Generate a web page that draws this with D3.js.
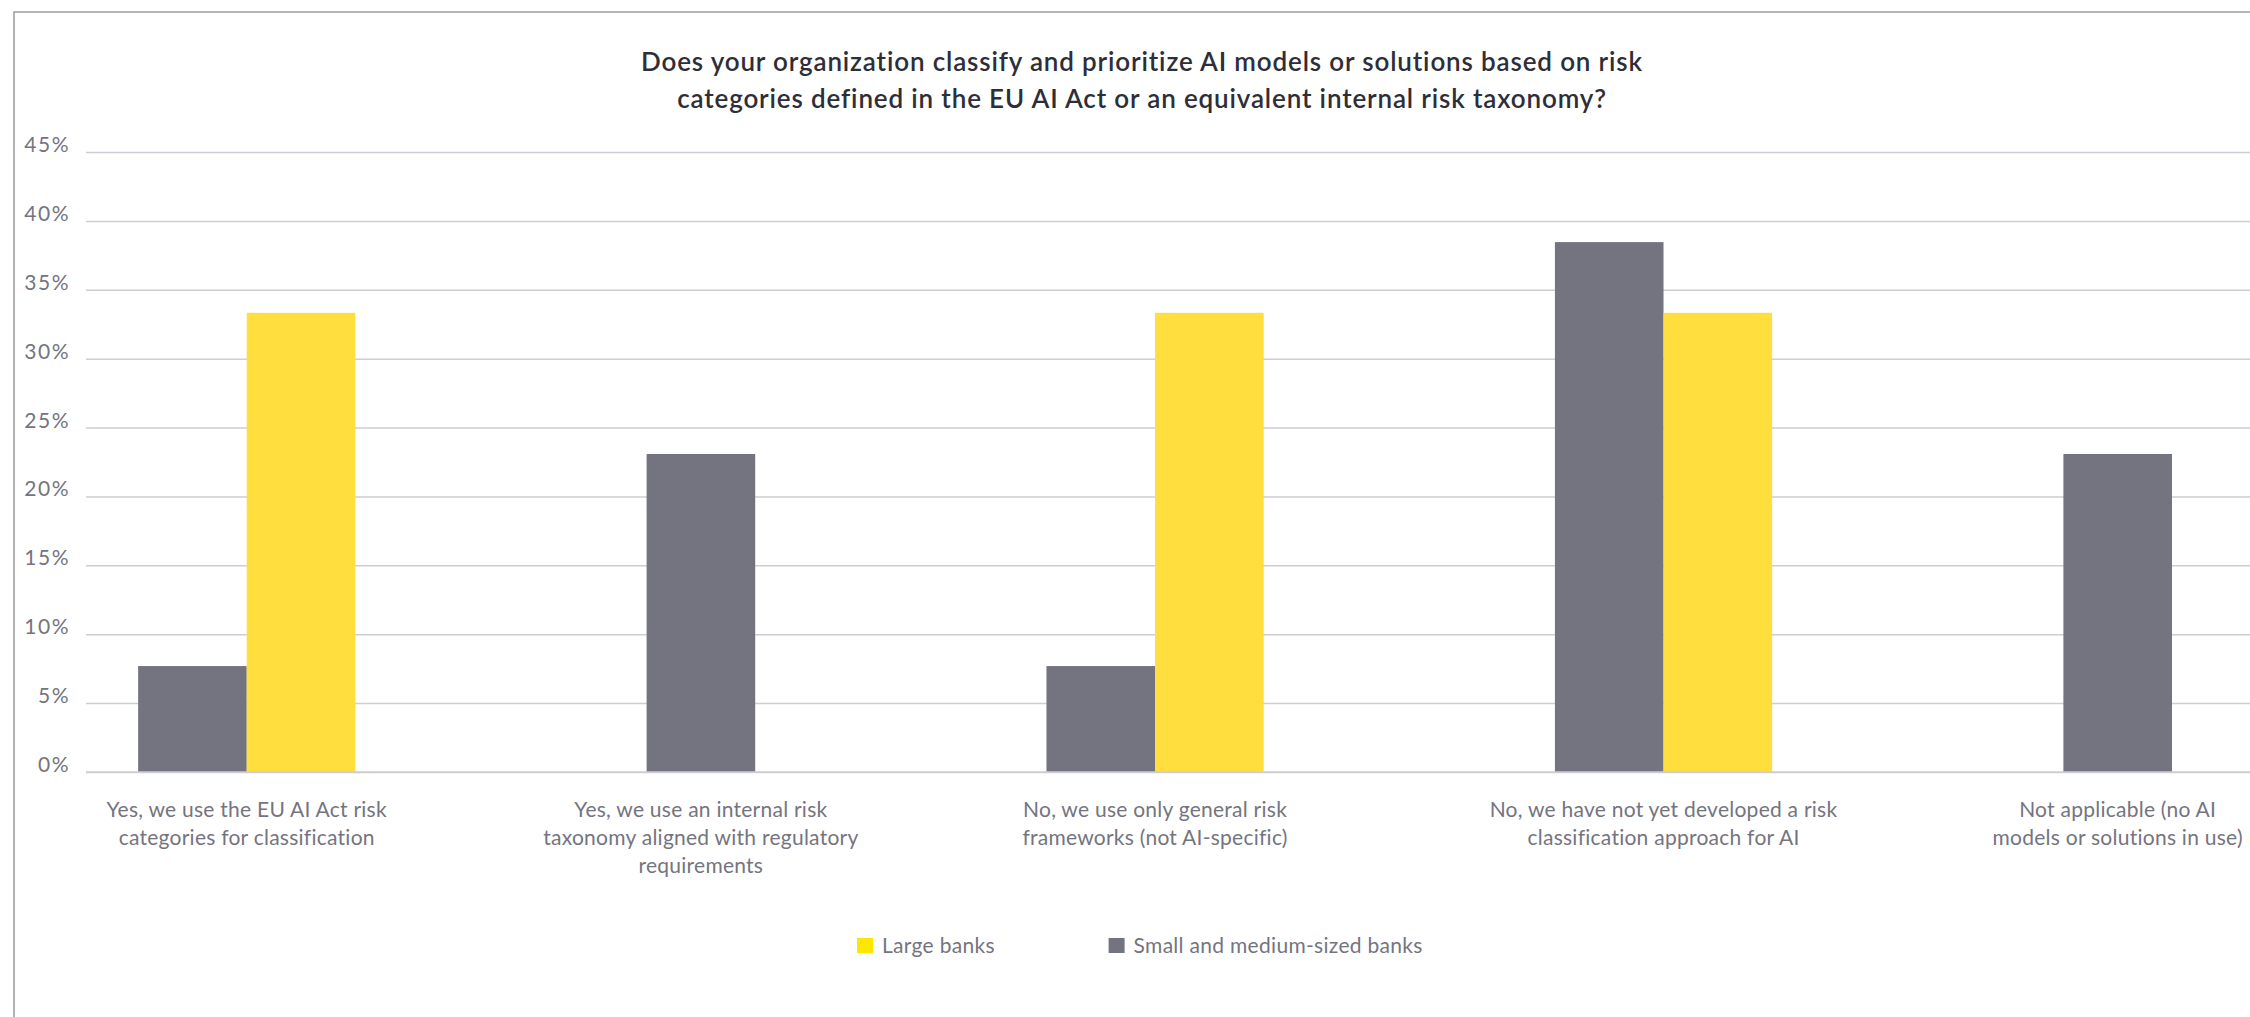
<!DOCTYPE html>
<html>
<head>
<meta charset="utf-8">
<script src="https://cdn.jsdelivr.net/npm/d3@7"></script>
<style>
  html, body { margin: 0; padding: 0; background: #fff; }
  svg { display: block; font-family: Lato, "Noto Sans", sans-serif; }
</style>
</head>
<body>
<svg id="chart" width="2250" height="1017"></svg>
<script>
const titleLines = [
    'Does your organization classify and prioritize AI models or solutions based on risk',
    'categories defined in the EU AI Act or an equivalent internal risk taxonomy?'
];
const categories = [
    ['Yes, we use the EU AI Act risk', 'categories for classification'],
    ['Yes, we use an internal risk', 'taxonomy aligned with regulatory', 'requirements'],
    ['No, we use only general risk', 'frameworks (not AI-specific)'],
    ['No, we have not yet developed a risk', 'classification approach for AI'],
    ['Not applicable (no AI', 'models or solutions in use)']
];
const seriesNames = ['Small and medium-sized banks', 'Large banks'];
const smallMediumBanks = [7.69, 23.08, 7.69, 38.46, 23.08];
const largeBanks = [33.33, 0, 33.33, 33.33, 0];
const yTicks = [0, 5, 10, 15, 20, 25, 30, 35, 40, 45];
const legendOrder = ['Large banks', 'Small and medium-sized banks'];

const COLORS = { 'Large banks': '#FFDE3D', 'Small and medium-sized banks': '#747480' };
const LEGEND_COLORS = { 'Large banks': '#FFE600', 'Small and medium-sized banks': '#747480' };
const TEXT = '#747480';
const TITLE = '#2E2E38';
const GRID = '#CDCDD5';

const W = 2250, H = 1017;
const PLOT = { left: 86, top: 152, bottom: 772 };
const BAR_W = 108.6;      // pixels per bar unit
const GAP = 2.682;        // gap between groups, in bar units
const LEFT_PAD = 0.48;    // first group offset, in bar units

const svg = d3.select('#chart');

// frame (cut off on the right and bottom like the source)
svg.append('rect')
    .attr('x', 14).attr('y', 12).attr('width', W + 20).attr('height', H + 20)
    .attr('fill', 'none').attr('stroke', '#9A9AA2').attr('stroke-width', 1.5);

// title
svg.append('text')
    .attr('x', 1142).attr('y', 71)
    .attr('text-anchor', 'middle')
    .style('font-size', '26px').style('font-weight', 600).style('fill', TITLE)
    .style('letter-spacing', '0.85px')
    .selectAll('tspan').data(titleLines).join('tspan')
    .attr('x', 1142).attr('dy', (d, i) => i ? 37 : 0)
    .text(d => d);

const yScale = d3.scaleLinear().domain([0, 45]).range([PLOT.bottom, PLOT.top]);
// x is measured in "bar units": zero values take no room, so groups pack
const xScale = d3.scaleLinear().domain([0, 1]).range([PLOT.left, PLOT.left + BAR_W]);

// grid
const g = svg.append('g');
g.append('g')
    .attr('transform', `translate(${PLOT.left},0)`)
    .call(d3.axisLeft(yScale).tickValues(yTicks).tickSize(-(W - PLOT.left)).tickFormat(''))
    .call(a => a.select('.domain').remove())
    .call(a => a.selectAll('line').attr('stroke', GRID).attr('stroke-width', 1.5));

// y labels, baseline on gridline
g.selectAll('.ylab').data(yTicks).join('text')
    .attr('class', 'ylab')
    .attr('x', 70).attr('y', d => yScale(d))
    .attr('text-anchor', 'end')
    .style('font-size', '21px').style('fill', TEXT)
    .style('letter-spacing', '1.5px')
    .text(d => d + '%');

// layout groups
const groups = [];
let u = LEFT_PAD;
categories.forEach((lines, i) => {
    const vals = [
        { series: seriesNames[0], value: smallMediumBanks[i] },
        { series: seriesNames[1], value: largeBanks[i] }
    ].filter(d => d.value > 0);
    vals.forEach((d, j) => { d.u = u + j; });
    groups.push({ lines, bars: vals, center: u + vals.length / 2 });
    u += vals.length + GAP;
});

const bars = groups.flatMap(d => d.bars);
g.selectAll('.bar').data(bars).join('rect')
    .attr('class', 'bar')
    .attr('x', d => xScale(d.u))
    .attr('width', xScale(1) - xScale(0))
    .attr('y', d => yScale(d.value))
    .attr('height', d => yScale(0) - yScale(d.value))
    .attr('fill', d => COLORS[d.series]);

// redraw baseline on top
g.append('line')
    .attr('x1', PLOT.left).attr('x2', W)
    .attr('y1', yScale(0)).attr('y2', yScale(0))
    .attr('stroke', GRID).attr('stroke-width', 1.5);

// category labels
g.selectAll('.cat').data(groups).join('text')
    .attr('class', 'cat')
    .attr('text-anchor', 'middle')
    .attr('y', 817)
    .style('font-size', '21px').style('fill', TEXT)
    .style('letter-spacing', '0.25px')
    .each(function (d) {
        d3.select(this).selectAll('tspan').data(d.lines).join('tspan')
            .attr('x', xScale(d.center))
            .attr('dy', (t, i) => i ? 28 : 0)
            .text(t => t);
    });

// legend
const legend = svg.append('g');
const legendX = [857, 1108.6];
legendOrder.forEach((name, i) => {
    legend.append('rect')
        .attr('x', legendX[i]).attr('y', 938)
        .attr('width', 16).attr('height', 15)
        .attr('fill', LEGEND_COLORS[name]);
    legend.append('text')
        .attr('x', legendX[i] + 25).attr('y', 953)
        .style('font-size', '21px').style('fill', TEXT)
        .style('letter-spacing', '0.3px')
        .text(name);
});
</script>
</body>
</html>
